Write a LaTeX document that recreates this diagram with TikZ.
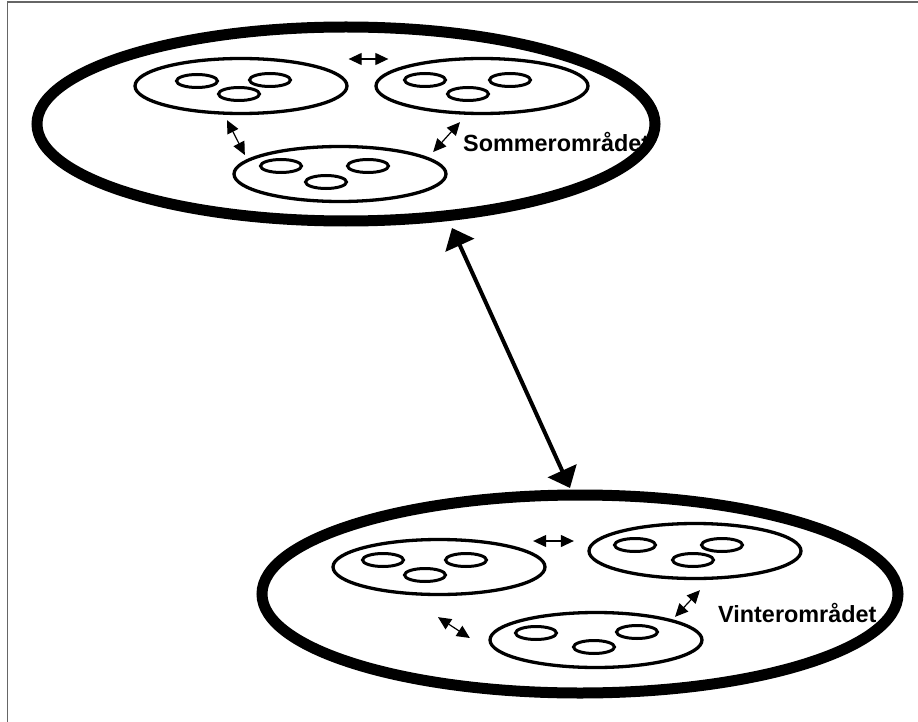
\documentclass[tikz,border=0pt]{standalone}
\usepackage{fontspec}
\setmainfont{Liberation Sans}
\usetikzlibrary{shapes.geometric,arrows.meta}
\tikzset{
  areabox/.style={ellipse, draw, line width=11pt, inner sep=0pt},
  groupbox/.style={ellipse, draw, line width=3.3pt, inner sep=0pt, minimum width=212pt, minimum height=55pt},
  memberbox/.style={ellipse, draw, line width=3pt, inner sep=0pt, minimum width=41pt, minimum height=13pt},
  linkarrow/.style={{Triangle[length=13pt,width=12pt]}-{Triangle[length=13pt,width=12pt]}, line width=1.2pt},
  mainarrow/.style={{Triangle[length=19pt,width=31pt]}-{Triangle[length=19pt,width=31pt]}, line width=4pt},
  areaname/.style={font=\fontsize{23.4}{28}\selectfont\bfseries, inner sep=0pt, anchor=base west}
}
\begin{document}
\begin{tikzpicture}[x=1pt,y=-1pt]
  \useasboundingbox (0,0) rectangle (918,722);
  \draw[black!60, line width=1.5pt] (7.5,2) rectangle (930,735);
  \node[areabox, minimum width=618pt, minimum height=194pt] at (346,124) (sommer) {};
  \node[areabox, minimum width=636pt, minimum height=198pt] at (580,594) (vinter) {};
  \node[groupbox] at (241,86) (a) {};
  \node[groupbox] at (482,86) (b) {};
  \node[groupbox] at (340,174) (c) {};
  \node[groupbox] at (439,567) (d) {};
  \node[groupbox] at (596,640) (e) {};
  \node[groupbox] at (695,551) (f) {};
  \foreach \x/\y [count=\i] in {197/81, 270/80, 239/94, 425/80, 468/94, 510/80, 281/166, 368/166, 326/182,
      383/560, 466/560, 425/575, 536/633, 637/632, 594/647, 635/545, 722/545, 693/560}
    \node[memberbox] at (\x,\y) (m\i) {};
  \node[areaname] at (463,152) (sommertext) {Sommerområdet};
  \node[areaname] at (718,622) (vintertext) {Vinterområdet};
  \draw[mainarrow] ([shift={(106,1.5)}]sommer.south) -- ([shift={(-10,-1.5)}]vinter.north);
  \draw[linkarrow] ([shift={(0,-27)}]a.east) -- ([shift={(14,-27)}]b.west);
  \draw[linkarrow] ([shift={(-14,5)}]a.south) -- ([shift={(12.5,-19)}]c.west);
  \draw[linkarrow] ([shift={(-14.5,-22)}]c.east) -- ([shift={(-22,7)}]b.south);
  \draw[linkarrow] ([shift={(-13.5,-26)}]d.east) -- ([shift={(-13.5,-10)}]f.west);
  \draw[linkarrow] ([shift={(-1,21)}]d.south) -- ([shift={(-18.5,-2)}]e.west);
  \draw[linkarrow] ([shift={(79,6)}]e.north) -- ([shift={(5,10)}]f.south);
\end{tikzpicture}
\end{document}
